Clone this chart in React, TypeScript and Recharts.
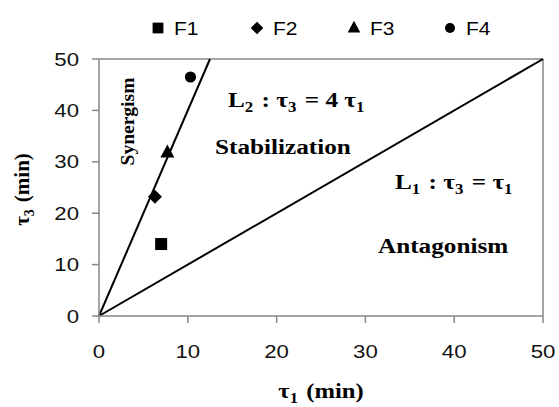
import { ScatterChart, Scatter, XAxis, YAxis, ReferenceLine } from 'recharts';

// formulation points: tau1 (x) and tau3 (y), in minutes
const seriesNames = ['F1', 'F2', 'F3', 'F4'];
const markerKinds = ['square', 'diamond', 'triangle', 'circle'];
const tau1Values = [7, 6.3, 7.7, 10.3];
const tau3Values = [14, 23.2, 31.8, 46.5];

const axisTicks = [0, 10, 20, 30, 40, 50];

// boundary lines L1: tau3 = tau1, L2: tau3 = 4 tau1
const lineL1 = [{ x: 0, y: 0 }, { x: 50, y: 50 }];
const lineL2 = [{ x: 0, y: 0 }, { x: 12.5, y: 50 }];

const SANS = 'Arial, "Liberation Sans", sans-serif';
const SERIF = '"Times New Roman", "Liberation Serif", serif';
const STRETCH = 1.2;
const AXIS_GREY = '#878787';

function Marker({ cx, cy, kind, s = 1 }: { cx: number; cy: number; kind: string; s?: number }) {
  if (kind === 'square') {
    return <rect x={cx - 6 * s} y={cy - 6 * s} width={12 * s} height={12 * s} fill="#000" />;
  }
  if (kind === 'diamond') {
    const d = 7 * s;
    return <polygon points={`${cx},${cy - d} ${cx + d},${cy} ${cx},${cy + d} ${cx - d},${cy}`} fill="#000" />;
  }
  if (kind === 'triangle') {
    const w = 7 * s;
    return <polygon points={`${cx},${cy - 8 * s} ${cx + w},${cy + 5 * s} ${cx - w},${cy + 5 * s}`} fill="#000" />;
  }
  return <circle cx={cx} cy={cy} r={5.6 * s} fill="#000" />;
}

function XTick(props: any) {
  const { x, y, payload } = props;
  return (
    <text transform={`translate(${x},${y}) scale(${STRETCH},1)`} textAnchor="middle" dy="0.71em"
      fontFamily={SANS} fontSize={18.5} fill="#111">
      {payload.value}
    </text>
  );
}

function YTick(props: any) {
  const { x, y, payload } = props;
  return (
    <text transform={`translate(${x},${y}) scale(${STRETCH},1)`} textAnchor="end" dy="0.355em"
      fontFamily={SANS} fontSize={18.5} fill="#111">
      {payload.value}
    </text>
  );
}

function Sub({ children, size = 14 }: { children: string; size?: number }) {
  return (
    <>
      <tspan dy={5} fontSize={size}>{children}</tspan>
      <tspan dy={-5}>{'\u200a'}</tspan>
    </>
  );
}

function XTitle(props: any) {
  const vb = props.viewBox;
  return (
    <text transform={`translate(${vb.x + vb.width / 2},398) scale(${STRETCH},1)`} textAnchor="middle"
      fontFamily={SERIF} fontWeight="bold" fontSize={20.5} fill="#000">
      τ<Sub>1</Sub>{'  (min)'}
    </text>
  );
}

function YTitle(props: any) {
  const vb = props.viewBox;
  return (
    <text transform={`translate(29,${vb.y + vb.height / 2 + 2}) rotate(-90)`} textAnchor="middle"
      fontFamily={SERIF} fontWeight="bold" fontSize={21} fill="#000">
      τ<Sub>3</Sub>{'  (min)'}
    </text>
  );
}

function Legend() {
  const xs = [158, 257, 354, 450];
  return (
    <g>
      {seriesNames.map((name, i) => (
        <g key={name}>
          <Marker cx={xs[i]} cy={28} kind={markerKinds[i]} s={0.9} />
          <text transform={`translate(${xs[i] + 16},34.5) scale(${STRETCH},1)`} fontFamily={SANS}
            fontSize={17.5} fill="#000">
            {name}
          </text>
        </g>
      ))}
    </g>
  );
}

function Notes() {
  const t = { fontFamily: SERIF, fontWeight: 'bold' as const, fontSize: 21, fill: '#000' };
  return (
    <g>
      <text transform={`translate(228,107) scale(${STRETCH},1)`} {...t}>
        L<Sub>2</Sub>{' : τ'}<Sub>3</Sub>{' = 4 τ'}<Sub>1</Sub>
      </text>
      <text transform={`translate(215,154) scale(${STRETCH},1)`} {...t}>Stabilization</text>
      <text transform={`translate(395,189) scale(${STRETCH},1)`} {...t}>
        L<Sub>1</Sub>{' : τ'}<Sub>3</Sub>{' = τ'}<Sub>1</Sub>
      </text>
      <text transform={`translate(378,253) scale(${STRETCH},1)`} {...t}>Antagonism</text>
      <text transform="translate(134,121.5) rotate(-90)" textAnchor="middle" {...t} fontSize={19.5}>
        Synergism
      </text>
    </g>
  );
}

export default function App() {
  return (
    <div style={{ position: 'absolute', left: 0, top: 0, width: 559, height: 407, background: '#fff' }}>
      <ScatterChart width={559} height={407} margin={{ top: 59, right: 16, bottom: 31, left: 39 }}>
        <XAxis type="number" dataKey="x" domain={[0, 50]} ticks={axisTicks} height={60}
          stroke={AXIS_GREY} strokeWidth={1.5} tickSize={7} tickMargin={22}
          tick={<XTick />} label={<XTitle />} />
        <YAxis type="number" dataKey="y" domain={[0, 50]} ticks={axisTicks} width={60}
          stroke={AXIS_GREY} strokeWidth={1.5} tickSize={7} tickMargin={13}
          tick={<YTick />} label={<YTitle />} />
        <ReferenceLine y={50} stroke={AXIS_GREY} strokeWidth={1.5} />
        <ReferenceLine x={50} stroke={AXIS_GREY} strokeWidth={1.5} />
        <ReferenceLine segment={lineL1} stroke="#000" strokeWidth={2} />
        <ReferenceLine segment={lineL2} stroke="#000" strokeWidth={2} />
        {seriesNames.map((name, i) => (
          <Scatter key={name} name={name} data={[{ x: tau1Values[i], y: tau3Values[i] }]}
            isAnimationActive={false}
            shape={(p: any) => <Marker cx={p.cx} cy={p.cy} kind={markerKinds[i]} />} />
        ))}
      </ScatterChart>
      <svg width={559} height={407} style={{ position: 'absolute', left: 0, top: 0, pointerEvents: 'none' }}>
        <Legend />
        <Notes />
      </svg>
    </div>
  );
}
